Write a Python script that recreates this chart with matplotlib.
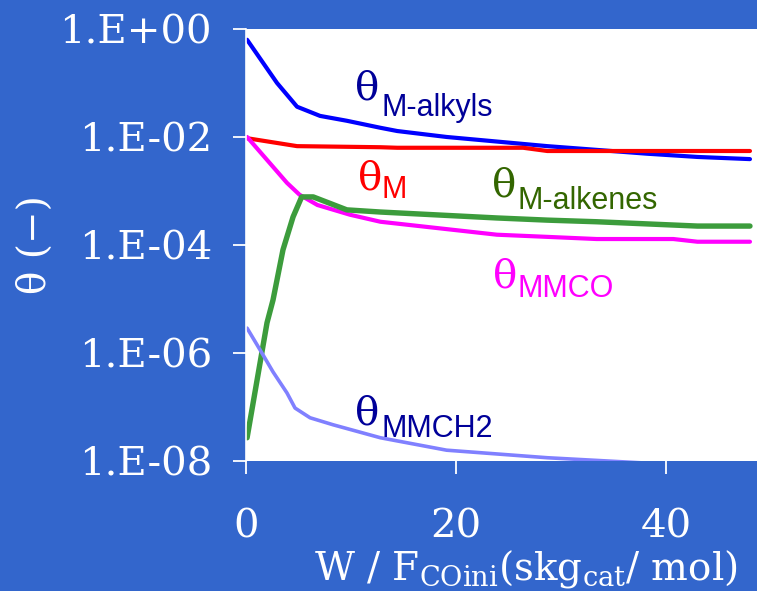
import numpy as np
import matplotlib
matplotlib.use("Agg")
import matplotlib.pyplot as plt
from matplotlib.ticker import FixedLocator, NullLocator

# Surface coverages vs. space time W/F_COini (log10 of coverage)
x_alkyls = [0.1, 2.95, 4.86, 7.05, 9.6, 12.8, 14.4, 19.1, 28.7, 38.2, 43.0, 48.0]
log_alkyls = [-0.20, -1.00, -1.44, -1.61, -1.70, -1.83, -1.89, -2.00, -2.17, -2.31, -2.37, -2.41]

x_m = [0.0, 4.86, 12.8, 14.4, 26.4, 28.7, 43.0, 48.0]
log_m = [-2.02, -2.17, -2.19, -2.20, -2.20, -2.26, -2.26, -2.26]

x_mmco = [0.1, 3.9, 5.1, 6.8, 9.9, 12.8, 23.9, 28.7, 33.4, 40.7, 43.0, 48.0]
log_mmco = [-2.00, -2.85, -3.07, -3.26, -3.44, -3.57, -3.81, -3.85, -3.89, -3.89, -3.94, -3.94]

x_alkenes = [0.1, 2.0, 2.57, 3.52, 4.48, 5.3, 6.4, 9.6, 12.8, 23.9, 28.7, 33.4, 43.0, 48.0]
log_alkenes = [-7.57, -5.44, -5.02, -4.09, -3.48, -3.11, -3.11, -3.35, -3.39, -3.50, -3.54, -3.57, -3.65, -3.65]

x_mmch2 = [0.1, 1.33, 2.57, 3.9, 4.67, 6.1, 8.3, 12.8, 19.1, 28.7, 38.2, 48.0]
log_mmch2 = [-5.54, -5.94, -6.35, -6.74, -7.02, -7.20, -7.33, -7.57, -7.80, -7.94, -8.04, -8.12]

y_ticks = [1e0, 1e-2, 1e-4, 1e-6, 1e-8]
y_tick_labels = ["1.E+00", "1.E-02", "1.E-04", "1.E-06", "1.E-08"]
x_ticks = [0, 20, 40]
x_tick_labels = ["0", "20", "40"]

BG = "#3366CC"
SERIF = "DejaVu Serif"
SANS = "Liberation Sans"

plt.rcParams["mathtext.fontset"] = "dejavuserif"

fig = plt.figure(figsize=(7.57, 5.91), dpi=100, facecolor=BG)
ax = fig.add_axes([0.325, 0.22, 0.675, 0.731])
ax.set_facecolor("white")

def pw(v):
    return 10.0 ** np.asarray(v)

ax.plot(x_alkyls, pw(log_alkyls), color="#0000FF", lw=3.0, solid_capstyle="round")
ax.plot(x_m, pw(log_m), color="#FF0000", lw=3.0, solid_capstyle="round")
ax.plot(x_mmco, pw(log_mmco), color="#FF00FF", lw=3.0, solid_capstyle="round")
ax.plot(x_alkenes, pw(log_alkenes), color="#3C9C3C", lw=3.9, solid_capstyle="round")
ax.plot(x_mmch2, pw(log_mmch2), color="#8080FF", lw=2.6, solid_capstyle="round")

ax.set_yscale("log")
ax.set_xlim(0, 48.67)
ax.set_ylim(1e-8, 1e0)

ax.yaxis.set_major_locator(FixedLocator(y_ticks))
ax.yaxis.set_minor_locator(NullLocator())
ax.set_yticklabels(y_tick_labels)
ax.set_xticks(x_ticks)
ax.set_xticklabels(x_tick_labels)

for s in ["top", "right", "bottom"]:
    ax.spines[s].set_visible(False)
ax.spines["left"].set_color("white")
ax.spines["left"].set_linewidth(1.2)

ax.tick_params(axis="y", direction="out", length=9.5, width=1.3, color="white",
               labelcolor="white", labelsize=29, pad=15)
ax.tick_params(axis="x", direction="out", length=9, width=1.3, color="white",
               labelcolor="white", labelsize=29, pad=25)
for lab in ax.get_xticklabels() + ax.get_yticklabels():
    lab.set_fontfamily(SERIF)

ax.set_ylabel("\u03b8 (\u2212)", color="white", fontsize=28, family=SERIF, labelpad=4)
fig.text(0.695, 0.0203, r"W / F$_{\mathrm{COini}}$(skg$_{\mathrm{cat}}$/ mol)",
         color="white", fontsize=28, family=SERIF, ha="center", va="baseline")

# Species labels: serif theta with sans-serif subscript
labels = [
    (10.38, -1.315, 12.86, -1.611, "M-alkyls", "#000099"),
    (10.67, -2.98, 12.86, -3.13, "M", "#FF0000"),
    (23.4, -3.11, 25.9, -3.33, "M-alkenes", "#336600"),
    (23.5, -4.78, 25.9, -4.96, "MMCO", "#FF00FF"),
    (10.38, -7.33, 12.86, -7.56, "MMCH2", "#000099"),
]
for tx, ty, sx, sy, sub, col in labels:
    ax.text(tx, 10 ** ty, "\u03b8", color=col, fontsize=29, family=SERIF, va="baseline", ha="left")
    ax.text(sx, 10 ** sy, sub, color=col, fontsize=22, family=SANS, va="baseline", ha="left")

fig.savefig("out.png", dpi=100, facecolor=BG)
